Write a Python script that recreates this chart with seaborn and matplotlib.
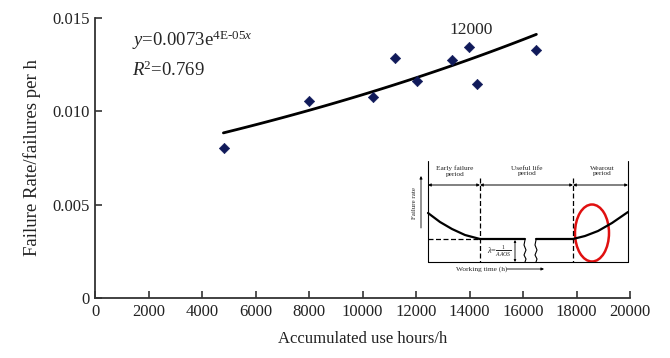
import numpy as np
import pandas as pd
import matplotlib
matplotlib.use("Agg")
import matplotlib.pyplot as plt
from matplotlib.patches import Ellipse
import seaborn as sns

# ---- data ----
hours = [4820, 8010, 10380, 11215, 12020, 13360, 13970, 14270, 16490]
rates = [0.00805, 0.01055, 0.01075, 0.01287, 0.01164, 0.01275, 0.01346, 0.01148, 0.01328]
fit_a = 0.0073
fit_b = 4e-05
fit_range = [4800, 16500]
x_ticks = list(range(0, 20001, 2000))
y_ticks = [0, 0.005, 0.010, 0.015]
y_tick_labels = ["0", "0.005", "0.010", "0.015"]

# ---- inset schematic (pixel units inside inset) ----
early_x = [428, 440, 452, 465, 480]
early_y = [213, 222, 229, 235, 239]
flat1_x = [480, 525]
flat2_x = [536, 573]
flat_y = 239
wear_x = [573, 585, 598, 612, 628]
wear_y = [239, 236, 231, 223, 212]

sns.set_theme(style="ticks")
plt.rcParams['font.family'] = ['Liberation Serif', 'DejaVu Serif']
plt.rcParams['mathtext.fontset'] = 'custom'
plt.rcParams['mathtext.rm'] = 'Liberation Serif'
plt.rcParams['mathtext.it'] = 'Liberation Serif:italic'

fig = plt.figure(figsize=(6.7, 3.58), dpi=100)
ax = fig.add_axes([95/670, 60/358, 535/670, 280/358])

df = pd.DataFrame({"hours": hours, "rate": rates})
xf = np.linspace(fit_range[0], fit_range[1], 100)
fit = pd.DataFrame({"hours": xf, "rate": fit_a * np.exp(fit_b * xf)})
sns.lineplot(data=fit, x="hours", y="rate", ax=ax, color="black", linewidth=2.0)
sns.scatterplot(data=df, x="hours", y="rate", ax=ax, marker="D", s=28,
                color="#101a5a", edgecolor="#101a5a", zorder=3)

ax.set_xlim(0, 20000)
ax.set_ylim(0, 0.015)
ax.set_xticks(x_ticks)
ax.set_xticklabels([str(t) for t in x_ticks])
ax.set_yticks(y_ticks)
ax.set_yticklabels(y_tick_labels)
ax.tick_params(direction="in", length=5, width=1.1, labelsize=12, colors="#222222", pad=4)
for s in ["top", "right"]:
    ax.spines[s].set_visible(False)
for s in ["left", "bottom"]:
    ax.spines[s].set_linewidth(1.3)
    ax.spines[s].set_color("#333333")
ax.set_xlabel("Accumulated use hours/h", fontsize=12, labelpad=8, color="#222222")
ax.set_ylabel("Failure Rate/failures per h", fontsize=13.5, labelpad=8, color="#222222")

ax.text(0.07, 0.92, r"$y$=0.0073e$^{\mathrm{4E\text{-}05}x}$", transform=ax.transAxes,
        fontsize=13.5, va="center")
ax.text(0.07, 0.815, r"$R$$^{2}$=0.769", transform=ax.transAxes, fontsize=13.5, va="center")
ax.text(14050, 0.01435, "12000", fontsize=12.5, ha="center", va="center")

# ---- inset ----
ia = fig.add_axes([405/670, (358-280)/358, 230/670, 125/358])
ia.set_xlim(405, 635)
ia.set_ylim(280, 155)
ia.axis("off")
k = dict(color="black", lw=0.8)
ia.plot([428, 428], [161, 262], **k)
ia.plot([628, 628], [161, 262], **k)
ia.plot([428, 628], [262, 262], **k)
for a, b in [(428, 480), (480, 573), (573, 628)]:
    ia.annotate("", xy=(a, 185), xytext=(b, 185),
                arrowprops=dict(arrowstyle="<|-|>", lw=0.7, color="black",
                                mutation_scale=4, shrinkA=0, shrinkB=0))
for xv in [480, 573]:
    ia.plot([xv, xv], [178, 262], color="black", lw=0.9, ls=(0, (4, 2)))
ia.plot([428, 480], [flat_y, flat_y], color="black", lw=0.9, ls=(0, (4, 2)))
ia.plot(early_x, early_y, color="black", lw=1.6, solid_capstyle="round")
ia.plot(flat1_x, [flat_y] * 2, color="black", lw=1.6)
ia.plot(flat2_x, [flat_y] * 2, color="black", lw=1.6)
ia.plot(wear_x, wear_y, color="black", lw=1.6)
for xb in [525, 536]:
    ia.plot([xb, xb - 1, xb + 1, xb - 1, xb + 1, xb], [240, 245, 250, 255, 259, 262],
            color="black", lw=0.8)
ia.annotate("", xy=(515, 240), xytext=(515, 262),
            arrowprops=dict(arrowstyle="<|-|>", lw=0.6, color="black",
                            mutation_scale=3, shrinkA=0, shrinkB=0))
ia.text(499, 251, r"$\lambda$=$\frac{1}{AAOS}$", fontsize=6, ha="center", va="center")
ia.add_patch(Ellipse((592, 233), 34, 57, fill=False, edgecolor="#e01010", lw=1.8))
ia.text(455, 171, "Early failure\nperiod", fontsize=5.3, ha="center", va="center", linespacing=1.2)
ia.text(527, 171, "Useful life\nperiod", fontsize=5.3, ha="center", va="center", linespacing=1.2)
ia.text(602, 171, "Wearout\nperiod", fontsize=5.3, ha="center", va="center", linespacing=1.2)
ia.text(414, 203, "Failure rate", fontsize=5, rotation=90, ha="center", va="center")
ia.annotate("", xy=(421, 176), xytext=(421, 228),
            arrowprops=dict(arrowstyle="-|>", lw=0.6, color="black",
                            mutation_scale=4, shrinkA=0, shrinkB=0))
ia.text(482, 269, "Working time (h)", fontsize=5.3, ha="center", va="center")
ia.annotate("", xy=(544, 269), xytext=(507, 269),
            arrowprops=dict(arrowstyle="-|>", lw=0.6, color="black",
                            mutation_scale=4, shrinkA=0, shrinkB=0))

fig.savefig("out.png", dpi=100)
